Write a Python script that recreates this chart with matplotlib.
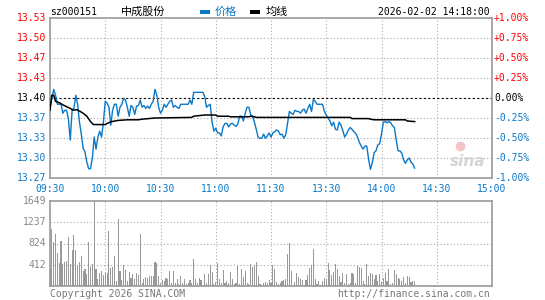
import numpy as np
import matplotlib
matplotlib.use("Agg")
import matplotlib.pyplot as plt
from matplotlib.patches import Rectangle

# ---------------- data ----------------
preclose = 13.40
price_am = [13.385, 13.40, 13.415, 13.405, 13.39, 13.39, 13.39, 13.375, 13.38, 13.38,
            13.365, 13.33, 13.38, 13.383, 13.405, 13.39, 13.36, 13.34, 13.316, 13.31,
            13.293, 13.282, 13.282, 13.30, 13.335, 13.315, 13.335, 13.345, 13.335, 13.36,
            13.395, 13.392, 13.385, 13.355, 13.38, 13.39, 13.39, 13.37, 13.385, 13.39,
            13.40, 13.397, 13.385, 13.37, 13.388, 13.385, 13.373, 13.387, 13.388, 13.397,
            13.385, 13.388, 13.383, 13.387, 13.383, 13.39, 13.395, 13.415, 13.405, 13.385,
            13.375, 13.38, 13.39, 13.385, 13.39, 13.395, 13.397, 13.385, 13.388, 13.385,
            13.383, 13.39, 13.39, 13.39, 13.39, 13.39, 13.397, 13.39, 13.41, 13.41,
            13.41, 13.41, 13.41, 13.41, 13.403, 13.385, 13.388, 13.39, 13.36, 13.345,
            13.35, 13.342, 13.342, 13.337, 13.352, 13.358, 13.358, 13.352, 13.357, 13.358,
            13.355, 13.353, 13.357, 13.37, 13.37, 13.362, 13.375, 13.385, 13.385, 13.372,
            13.37, 13.36, 13.348, 13.335, 13.333, 13.333, 13.34, 13.333, 13.337, 13.342,
            13.335]
price_pm = [13.342, 13.344, 13.347, 13.345, 13.339, 13.34, 13.333, 13.339, 13.358, 13.378,
            13.375, 13.373, 13.38, 13.378, 13.378, 13.375, 13.38, 13.382, 13.375, 13.383,
            13.39, 13.378, 13.398, 13.395, 13.39, 13.39, 13.39, 13.39, 13.378, 13.372,
            13.367, 13.362, 13.354, 13.36, 13.348, 13.347, 13.36, 13.355, 13.346, 13.335,
            13.34, 13.347, 13.351, 13.348, 13.344, 13.341, 13.335, 13.326, 13.32, 13.315,
            13.32, 13.32, 13.298, 13.281, 13.292, 13.309, 13.312, 13.322, 13.324, 13.34,
            13.36, 13.361, 13.359, 13.361, 13.359, 13.354, 13.351, 13.33, 13.312, 13.312,
            13.308, 13.297, 13.291, 13.297, 13.30, 13.293, 13.29, 13.283]

avg_minutes = [0, 1, 2, 3, 5.5, 7, 9, 11, 12.7, 14.5, 16.4, 18, 20, 22, 23.6, 30, 31, 33.6,
               37, 42, 48, 50, 57, 77, 78, 84, 90, 91, 97, 98, 108, 109, 111, 112, 163, 164,
               173, 174, 176, 193, 194, 198]
avg_values = [13.38, 13.405, 13.405, 13.395, 13.392, 13.389, 13.386, 13.383, 13.38, 13.381,
              13.378, 13.375, 13.37, 13.361, 13.356, 13.356, 13.358, 13.361, 13.363, 13.364,
              13.364, 13.365, 13.367, 13.368, 13.37, 13.372, 13.372, 13.37, 13.37, 13.369,
              13.369, 13.37, 13.369, 13.368, 13.368, 13.366, 13.366, 13.365, 13.364, 13.364,
              13.362, 13.361]

vol_am = [324, 1103, 844, 1000, 649, 454, 870, 435, 467, 480,
          941, 435, 694, 986, 694, 415, 467, 578, 285, 324,
          234, 844, 370, 422, 1649, 324, 143, 260, 285, 220,
          247, 260, 1064, 350, 370, 578, 91, 1298, 285, 110,
          415, 305, 91, 272, 150, 240, 143, 253, 208, 1000,
          65, 143, 175, 162, 188, 188, 195, 467, 442, 195,
          52, 117, 100, 150, 143, 292, 52, 292, 52, 143,
          32, 195, 52, 143, 32, 52, 117, 52, 533, 143,
          52, 162, 117, 13, 227, 52, 227, 403, 273, 32,
          78, 442, 143, 52, 312, 52, 98, 52, 273, 130,
          32, 52, 390, 32, 338, 182, 292, 52, 32, 422,
          377, 403, 468, 195, 32, 13, 52, 78, 52, 117,
          60]
vol_pm = [403, 338, 78, 32, 52, 98, 117, 143, 617, 832,
          292, 13, 78, 260, 182, 143, 117, 13, 117, 208,
          357, 403, 715, 143, 32, 98, 13, 91, 162, 130,
          442, 312, 215, 273, 422, 338, 195, 78, 247, 52,
          228, 32, 52, 247, 228, 52, 390, 377, 351, 98,
          32, 422, 195, 260, 228, 143, 221, 98, 228, 78,
          162, 260, 98, 325, 32, 65, 312, 228, 162, 130,
          98, 175, 52, 196, 183, 78, 98, 98]

time_labels = ["09:30", "10:00", "10:30", "11:00", "11:30", "13:30", "14:00", "14:30", "15:00"]
price_labels = ["13.53", "13.50", "13.47", "13.43", "13.40", "13.37", "13.33", "13.30", "13.27"]
pct_labels = ["+1.00%", "+0.75%", "+0.50%", "+0.25%", "0.00%", "-0.25%", "-0.50%", "-0.75%", "-1.00%"]
vol_labels = ["1649", "1237", "824", "412"]
vol_max = 1649

code = "sz000151"
name = "中成股份"
stamp = "2026-02-02 14:18:00"

# ---------------- style ----------------
W, H = 545, 300
BLUE = "#0a78c8"
RED = "#ff0000"
GRAY = "#999999"
GRID = "#aaaaaa"
MONO = "DejaVu Sans Mono"
CJK = ["Noto Sans CJK SC", "DejaVu Sans"]
FS = 7

fig = plt.figure(figsize=(W / 100, H / 100), dpi=100)
fig.patch.set_facecolor("white")

def fx(x):
    return x / W

def fy(y):
    return 1 - y / H

L, R = 50, 492
PT, PB = 18.3, 178.3
VT, VB = 201, 286

axp = fig.add_axes([fx(L), fy(PB), (R - L) / W, (PB - PT) / H])
axv = fig.add_axes([fx(L), fy(VB), (R - L) / W, (VB - VT) / H])

lo, hi = preclose * 0.99, preclose * 1.01
levels = np.linspace(hi, lo, 9)
xt = np.arange(0, 241, 30)

for ax in (axp, axv):
    ax.set_xlim(0, 240)
    ax.set_xticks([])
    ax.set_yticks([])
    for s in ax.spines.values():
        s.set_color(GRAY)
        s.set_linewidth(1.2)
    for x in xt[1:-1]:
        ax.axvline(x, color=GRID, lw=0.8, ls=(0, (1, 2)), zorder=0)

axp.set_ylim(lo, hi)
for i, lv in enumerate(levels):
    if i in (0, 8):
        continue
    if i == 4:
        axp.axhline(lv, color="black", lw=0.8, ls=(0, (2, 2)), zorder=1)
    else:
        axp.axhline(lv, color=GRID, lw=0.8, ls=(0, (1, 2)), zorder=0)

# watermark (behind the lines)
axp.text(0.945, 0.105, "sina", transform=axp.transAxes, ha="center", va="center",
         fontsize=11, fontweight="bold", style="italic", color="#d4d4d4",
         family="DejaVu Sans", zorder=1)
axp.plot([0.928], [0.2], transform=axp.transAxes, marker="o", markersize=6,
         markerfacecolor="#f4c4c4", markeredgecolor="#f4c4c4", linestyle="none", zorder=1)

x_am = np.arange(len(price_am))
x_pm = len(price_am) + np.arange(len(price_pm))
px_all = np.concatenate([x_am, x_pm])
price_all = np.array(price_am + price_pm)
axp.plot(px_all, price_all, color=BLUE, lw=1.0, zorder=3)
axp.plot(avg_minutes, avg_values, color="black", lw=1.1, zorder=4)

# volume
axv.set_ylim(0, vol_max)
for v in [412, 824, 1237]:
    axv.axhline(v, color=GRID, lw=0.8, ls=(0, (1, 2)), zorder=0)
vx = np.concatenate([np.arange(len(vol_am)), len(vol_am) + np.arange(len(vol_pm))])
axv.bar(vx, vol_am + vol_pm, width=0.6, color=GRAY, linewidth=0, antialiased=False, zorder=2)

# left / right labels
for i, lv in enumerate(levels):
    y = PT + i * (PB - PT) / 8
    c = RED if i < 4 else ("black" if i == 4 else BLUE)
    fig.text(fx(46), fy(y), price_labels[i], ha="right", va="center", color=c,
             fontsize=FS, family=MONO)
    fig.text(fx(494), fy(y), pct_labels[i], ha="left", va="center", color=c,
             fontsize=FS, family=MONO)

for i, lab in enumerate(vol_labels):
    y = VT + i * (VB - VT) / 4
    fig.text(fx(46), fy(y), lab, ha="right", va="center", color="#888888",
             fontsize=FS, family=MONO)

for i, lab in enumerate(time_labels):
    x = L + i * (R - L) / 8
    fig.text(fx(x), fy(189.5), lab, ha="center", va="center", color=BLUE,
             fontsize=FS, family=MONO)

# header
fig.text(fx(50), fy(12), code, ha="left", va="center", fontsize=FS, family=MONO, color="black")
fig.text(fx(121), fy(12), name, ha="left", va="center", fontsize=8, family=CJK, color="black")
fig.patches.append(Rectangle((fx(200), fy(13.5)), 10 / W, 3.5 / H, transform=fig.transFigure,
                             color=BLUE, lw=0))
fig.text(fx(215), fy(12), "价格", ha="left", va="center", fontsize=8, family=CJK, color=BLUE)
fig.patches.append(Rectangle((fx(250), fy(13.5)), 10 / W, 3.5 / H, transform=fig.transFigure,
                             color="black", lw=0))
fig.text(fx(266), fy(12), "均线", ha="left", va="center", fontsize=8, family=CJK, color="black")
fig.text(fx(490), fy(12), stamp, ha="right", va="center", fontsize=FS, family=MONO, color="black")

# footer
fig.text(fx(50), fy(294), "Copyright 2026 SINA.COM", ha="left", va="center",
         fontsize=FS, family=MONO, color="#777777")
fig.text(fx(490), fy(294), "http://finance.sina.com.cn", ha="right", va="center",
         fontsize=FS, family=MONO, color="#777777")

fig.savefig("out.png", dpi=100)
